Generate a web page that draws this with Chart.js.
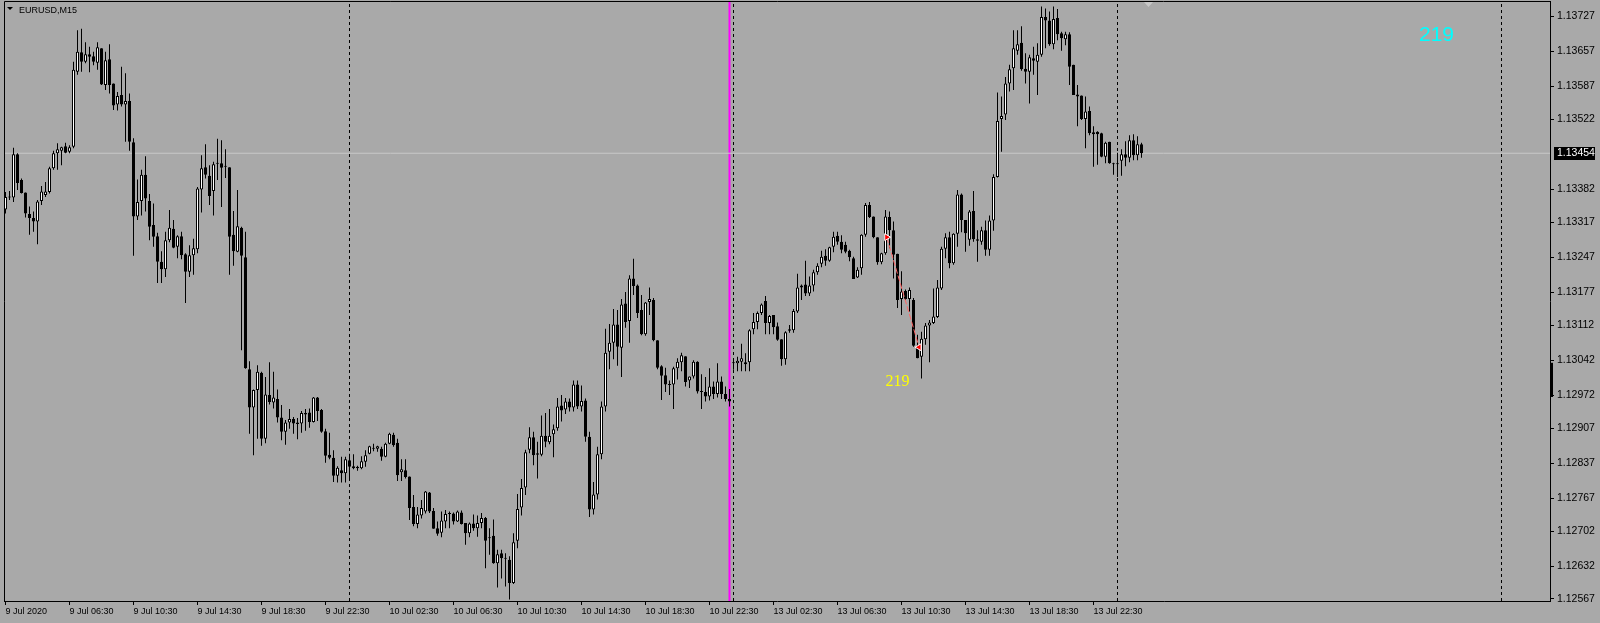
<!DOCTYPE html>
<html>
<head>
<meta charset="utf-8">
<script src="https://cdn.jsdelivr.net/npm/chart.js@4.4.1/dist/chart.umd.min.js"></script>
<style>
  html, body { margin: 0; padding: 0; background: #a9a9a9; overflow: hidden; }
  canvas { display: block; }
</style>
</head>
<body>
<canvas id="chart" width="1600" height="623"></canvas>
<script>
// EURUSD M15, 9 Jul 02:30 .. 14 Jul 01:00 — one entry per bar.
const opens = [
  1.13342, 1.13367, 1.13366, 1.13452, 1.13401, 1.13376, 1.13333, 1.13325, 1.13318, 1.13359,
  1.13371, 1.13377, 1.13424, 1.13454, 1.13459, 1.13468, 1.13457, 1.13467, 1.13616, 1.13655,
  1.13636, 1.13651, 1.13647, 1.13634, 1.13663, 1.13590, 1.13641, 1.13593, 1.13551, 1.13570,
  1.13551, 1.13558, 1.13476, 1.13328, 1.13359, 1.13411, 1.13359, 1.13311, 1.13289, 1.13238,
  1.13223, 1.13281, 1.13304, 1.13268, 1.13289, 1.13253, 1.13218, 1.13251, 1.13263, 1.13382,
  1.13426, 1.13409, 1.13379, 1.13433, 1.13434, 1.13427, 1.13426, 1.13292, 1.13258, 1.13306,
  1.13247, 1.13024, 1.12948, 1.12983, 1.13017, 1.12886, 1.12973, 1.12958, 1.12965, 1.12928,
  1.12900, 1.12918, 1.12925, 1.12918, 1.12916, 1.12937, 1.12938, 1.12919, 1.12968, 1.12943,
  1.12901, 1.12854, 1.12848, 1.12812, 1.12823, 1.12817, 1.12843, 1.12831, 1.12830, 1.12827,
  1.12840, 1.12856, 1.12868, 1.12866, 1.12866, 1.12850, 1.12876, 1.12894, 1.12878, 1.12819,
  1.12823, 1.12811, 1.12750, 1.12716, 1.12733, 1.12741, 1.12779, 1.12742, 1.12708, 1.12699,
  1.12721, 1.12736, 1.12737, 1.12721, 1.12739, 1.12718, 1.12698, 1.12717, 1.12708, 1.12718,
  1.12728, 1.12688, 1.12693, 1.12638, 1.12658, 1.12647, 1.12645, 1.12599, 1.12683, 1.12749,
  1.12789, 1.12864, 1.12889, 1.12857, 1.12854, 1.12892, 1.12879, 1.12895, 1.12907, 1.12952,
  1.12944, 1.12960, 1.12948, 1.12994, 1.12950, 1.12962, 1.12890, 1.12745, 1.12775, 1.12855,
  1.12950, 1.13059, 1.13077, 1.13113, 1.13067, 1.13155, 1.13120, 1.13205, 1.13191, 1.13142,
  1.13094, 1.13158, 1.13162, 1.13082, 1.13030, 1.13012, 1.12993, 1.12994, 1.13026, 1.13038,
  1.13050, 1.13002, 1.13010, 1.13039, 1.12979, 1.12979, 1.12970, 1.12990, 1.12975, 1.13000,
  1.12975, 1.12965, 1.13036, 1.13036, 1.13039, 1.13034, 1.13038, 1.13104, 1.13118, 1.13136,
  1.13160, 1.13116, 1.13132, 1.13110, 1.13084, 1.13044, 1.13101, 1.13102, 1.13139, 1.13187,
  1.13193, 1.13175, 1.13191, 1.13217, 1.13234, 1.13250, 1.13240, 1.13268, 1.13290, 1.13278,
  1.13272, 1.13260, 1.13245, 1.13207, 1.13225, 1.13292, 1.13351, 1.13328, 1.13287, 1.13237,
  1.13255, 1.13327, 1.13301, 1.13254, 1.13164, 1.13180, 1.13164, 1.13162, 1.13071, 1.13049,
  1.13084, 1.13111, 1.13116, 1.13128, 1.13185, 1.13264, 1.13287, 1.13235, 1.13294, 1.13372,
  1.13321, 1.13282, 1.13339, 1.13283, 1.13278, 1.13301, 1.13262, 1.13320, 1.13407, 1.13522,
  1.13531, 1.13593, 1.13623, 1.13658, 1.13674, 1.13622, 1.13616, 1.13643, 1.13636, 1.13650,
  1.13725, 1.13718, 1.13671, 1.13723, 1.13693, 1.13681, 1.13691, 1.13630, 1.13571, 1.13569,
  1.13522, 1.13538, 1.13492, 1.13497, 1.13494, 1.13447, 1.13477, 1.13434, 1.13432, 1.13439,
  1.13452, 1.13445, 1.13480, 1.13450, 1.13472,
];
const highs = [
  1.13377, 1.13379, 1.13465, 1.13454, 1.13404, 1.13376, 1.13348, 1.13338, 1.13361, 1.13389,
  1.13397, 1.13427, 1.13459, 1.13474, 1.13467, 1.13475, 1.13470, 1.13636, 1.13699, 1.13702,
  1.13675, 1.13666, 1.13656, 1.13675, 1.13663, 1.13656, 1.13671, 1.13593, 1.13576, 1.13626,
  1.13613, 1.13573, 1.13484, 1.13402, 1.13421, 1.13448, 1.13373, 1.13354, 1.13296, 1.13259,
  1.13298, 1.13341, 1.13321, 1.13291, 1.13298, 1.13255, 1.13271, 1.13284, 1.13387, 1.13450,
  1.13472, 1.13430, 1.13437, 1.13483, 1.13480, 1.13462, 1.13426, 1.13339, 1.13381, 1.13308,
  1.13298, 1.13040, 1.12984, 1.13032, 1.13019, 1.13009, 1.13038, 1.13019, 1.12984, 1.12953,
  1.12923, 1.12945, 1.12929, 1.12927, 1.12941, 1.12945, 1.12946, 1.12969, 1.12969, 1.12945,
  1.12906, 1.12898, 1.12863, 1.12831, 1.12850, 1.12850, 1.12856, 1.12855, 1.12832, 1.12851,
  1.12863, 1.12872, 1.12876, 1.12872, 1.12870, 1.12878, 1.12898, 1.12898, 1.12886, 1.12845,
  1.12845, 1.12811, 1.12774, 1.12750, 1.12764, 1.12782, 1.12780, 1.12748, 1.12721, 1.12741,
  1.12744, 1.12741, 1.12739, 1.12743, 1.12743, 1.12718, 1.12719, 1.12735, 1.12733, 1.12738,
  1.12730, 1.12708, 1.12725, 1.12665, 1.12665, 1.12658, 1.12652, 1.12698, 1.12776, 1.12806,
  1.12864, 1.12909, 1.12900, 1.12880, 1.12932, 1.12937, 1.12945, 1.12914, 1.12967, 1.12973,
  1.12967, 1.12966, 1.13002, 1.13002, 1.12992, 1.12966, 1.12900, 1.12800, 1.12870, 1.12960,
  1.13105, 1.13114, 1.13144, 1.13142, 1.13164, 1.13178, 1.13211, 1.13244, 1.13193, 1.13172,
  1.13158, 1.13187, 1.13166, 1.13082, 1.13032, 1.13027, 1.13002, 1.13029, 1.13046, 1.13057,
  1.13050, 1.13010, 1.13042, 1.13040, 1.13014, 1.13009, 1.13026, 1.13000, 1.13036, 1.13010,
  1.12990, 1.12985, 1.13044, 1.13049, 1.13075, 1.13056, 1.13104, 1.13136, 1.13139, 1.13155,
  1.13170, 1.13132, 1.13132, 1.13117, 1.13084, 1.13100, 1.13112, 1.13144, 1.13214, 1.13193,
  1.13240, 1.13209, 1.13222, 1.13235, 1.13260, 1.13263, 1.13268, 1.13298, 1.13298, 1.13291,
  1.13278, 1.13262, 1.13248, 1.13227, 1.13293, 1.13355, 1.13357, 1.13328, 1.13287, 1.13256,
  1.13341, 1.13338, 1.13318, 1.13254, 1.13219, 1.13183, 1.13187, 1.13166, 1.13093, 1.13099,
  1.13116, 1.13122, 1.13185, 1.13202, 1.13268, 1.13295, 1.13298, 1.13295, 1.13381, 1.13374,
  1.13321, 1.13341, 1.13379, 1.13301, 1.13308, 1.13320, 1.13330, 1.13412, 1.13575, 1.13567,
  1.13606, 1.13630, 1.13699, 1.13699, 1.13707, 1.13653, 1.13650, 1.13666, 1.13673, 1.13746,
  1.13742, 1.13736, 1.13746, 1.13741, 1.13696, 1.13696, 1.13695, 1.13630, 1.13590, 1.13569,
  1.13567, 1.13547, 1.13508, 1.13498, 1.13495, 1.13477, 1.13477, 1.13435, 1.13455, 1.13462,
  1.13478, 1.13490, 1.13492, 1.13488, 1.13475,
];
const lows = [
  1.13334, 1.13361, 1.13357, 1.13381, 1.13374, 1.13326, 1.13292, 1.13298, 1.13273, 1.13351,
  1.13367, 1.13374, 1.13421, 1.13421, 1.13430, 1.13454, 1.13454, 1.13464, 1.13610, 1.13616,
  1.13633, 1.13615, 1.13629, 1.13620, 1.13590, 1.13580, 1.13573, 1.13540, 1.13539, 1.13547,
  1.13477, 1.13459, 1.13250, 1.13321, 1.13330, 1.13338, 1.13281, 1.13268, 1.13196, 1.13196,
  1.13208, 1.13277, 1.13265, 1.13245, 1.13243, 1.13156, 1.13208, 1.13212, 1.13255, 1.13336,
  1.13404, 1.13351, 1.13330, 1.13401, 1.13347, 1.13405, 1.13212, 1.13230, 1.13257, 1.13062,
  1.13025, 1.12896, 1.12853, 1.12886, 1.12872, 1.12877, 1.12954, 1.12946, 1.12918, 1.12883,
  1.12874, 1.12906, 1.12896, 1.12885, 1.12898, 1.12902, 1.12908, 1.12918, 1.12921, 1.12898,
  1.12838, 1.12845, 1.12800, 1.12799, 1.12799, 1.12799, 1.12807, 1.12825, 1.12822, 1.12825,
  1.12830, 1.12855, 1.12861, 1.12860, 1.12842, 1.12849, 1.12875, 1.12870, 1.12802, 1.12802,
  1.12807, 1.12724, 1.12712, 1.12708, 1.12727, 1.12737, 1.12738, 1.12707, 1.12693, 1.12690,
  1.12708, 1.12708, 1.12715, 1.12720, 1.12715, 1.12675, 1.12690, 1.12703, 1.12691, 1.12708,
  1.12628, 1.12655, 1.12637, 1.12590, 1.12608, 1.12592, 1.12566, 1.12597, 1.12668, 1.12733,
  1.12774, 1.12857, 1.12833, 1.12807, 1.12851, 1.12869, 1.12875, 1.12849, 1.12902, 1.12920,
  1.12935, 1.12940, 1.12940, 1.12945, 1.12940, 1.12880, 1.12730, 1.12735, 1.12765, 1.12845,
  1.12940, 1.13024, 1.13044, 1.13031, 1.13009, 1.13107, 1.13077, 1.13172, 1.13126, 1.13092,
  1.13091, 1.13132, 1.13080, 1.13024, 1.12963, 1.12979, 1.12973, 1.12945, 1.13004, 1.13020,
  1.12990, 1.12987, 1.13006, 1.12976, 1.12945, 1.12960, 1.12962, 1.12965, 1.12968, 1.12965,
  1.12960, 1.12950, 1.13023, 1.13020, 1.13020, 1.13020, 1.13020, 1.13094, 1.13104, 1.13132,
  1.13094, 1.13094, 1.13094, 1.13081, 1.13031, 1.13033, 1.13097, 1.13097, 1.13136, 1.13162,
  1.13170, 1.13170, 1.13179, 1.13212, 1.13227, 1.13230, 1.13238, 1.13257, 1.13272, 1.13255,
  1.13255, 1.13239, 1.13204, 1.13206, 1.13212, 1.13288, 1.13325, 1.13285, 1.13232, 1.13233,
  1.13252, 1.13265, 1.13205, 1.13146, 1.13132, 1.13162, 1.13139, 1.13069, 1.13046, 1.13006,
  1.13073, 1.13038, 1.13114, 1.13126, 1.13182, 1.13245, 1.13225, 1.13232, 1.13268, 1.13297,
  1.13258, 1.13270, 1.13278, 1.13238, 1.13272, 1.13250, 1.13250, 1.13300, 1.13406, 1.13457,
  1.13520, 1.13577, 1.13580, 1.13650, 1.13618, 1.13593, 1.13553, 1.13610, 1.13570, 1.13646,
  1.13663, 1.13668, 1.13661, 1.13679, 1.13658, 1.13669, 1.13590, 1.13570, 1.13508, 1.13520,
  1.13464, 1.13490, 1.13427, 1.13431, 1.13446, 1.13434, 1.13433, 1.13411, 1.13407, 1.13409,
  1.13428, 1.13436, 1.13440, 1.13440, 1.13445,
];
const closes = [
  1.13367, 1.13366, 1.13452, 1.13395, 1.13375, 1.13334, 1.13325, 1.13318, 1.13358, 1.13378,
  1.13378, 1.13424, 1.13454, 1.13462, 1.13466, 1.13455, 1.13466, 1.13620, 1.13656, 1.13636,
  1.13651, 1.13646, 1.13636, 1.13665, 1.13591, 1.13639, 1.13590, 1.13549, 1.13568, 1.13551,
  1.13558, 1.13477, 1.13328, 1.13357, 1.13411, 1.13364, 1.13308, 1.13288, 1.13238, 1.13223,
  1.13281, 1.13306, 1.13266, 1.13289, 1.13251, 1.13218, 1.13251, 1.13265, 1.13384, 1.13424,
  1.13411, 1.13369, 1.13432, 1.13434, 1.13425, 1.13428, 1.13288, 1.13259, 1.13309, 1.13250,
  1.13026, 1.12948, 1.12983, 1.13019, 1.12886, 1.12974, 1.12959, 1.12968, 1.12928, 1.12900,
  1.12918, 1.12925, 1.12916, 1.12915, 1.12937, 1.12934, 1.12919, 1.12968, 1.12941, 1.12900,
  1.12852, 1.12848, 1.12812, 1.12828, 1.12817, 1.12845, 1.12830, 1.12827, 1.12827, 1.12841,
  1.12853, 1.12871, 1.12866, 1.12871, 1.12850, 1.12876, 1.12896, 1.12873, 1.12813, 1.12825,
  1.12810, 1.12748, 1.12716, 1.12735, 1.12748, 1.12781, 1.12741, 1.12707, 1.12697, 1.12723,
  1.12736, 1.12738, 1.12721, 1.12741, 1.12716, 1.12698, 1.12717, 1.12708, 1.12718, 1.12728,
  1.12683, 1.12688, 1.12638, 1.12656, 1.12648, 1.12647, 1.12599, 1.12680, 1.12746, 1.12788,
  1.12859, 1.12889, 1.12853, 1.12854, 1.12892, 1.12880, 1.12892, 1.12905, 1.12950, 1.12942,
  1.12960, 1.12948, 1.12994, 1.12950, 1.12961, 1.12890, 1.12745, 1.12775, 1.12855, 1.12950,
  1.13057, 1.13077, 1.13113, 1.13069, 1.13153, 1.13118, 1.13205, 1.13190, 1.13136, 1.13094,
  1.13157, 1.13164, 1.13082, 1.13027, 1.13011, 1.12994, 1.12993, 1.13026, 1.13039, 1.13052,
  1.12999, 1.13010, 1.13039, 1.12980, 1.12979, 1.12970, 1.12990, 1.12975, 1.13000, 1.12975,
  1.12965, 1.12960, 1.13036, 1.13041, 1.13046, 1.13038, 1.13102, 1.13118, 1.13136, 1.13153,
  1.13116, 1.13130, 1.13108, 1.13083, 1.13044, 1.13098, 1.13104, 1.13140, 1.13187, 1.13191,
  1.13175, 1.13191, 1.13217, 1.13230, 1.13248, 1.13240, 1.13267, 1.13288, 1.13278, 1.13262,
  1.13258, 1.13247, 1.13204, 1.13222, 1.13292, 1.13351, 1.13327, 1.13287, 1.13237, 1.13255,
  1.13328, 1.13301, 1.13252, 1.13162, 1.13179, 1.13164, 1.13182, 1.13071, 1.13046, 1.13085,
  1.13111, 1.13117, 1.13129, 1.13187, 1.13264, 1.13287, 1.13235, 1.13294, 1.13372, 1.13321,
  1.13295, 1.13338, 1.13283, 1.13280, 1.13301, 1.13262, 1.13320, 1.13407, 1.13518, 1.13528,
  1.13593, 1.13621, 1.13663, 1.13671, 1.13621, 1.13616, 1.13645, 1.13638, 1.13650, 1.13725,
  1.13718, 1.13671, 1.13721, 1.13691, 1.13683, 1.13691, 1.13626, 1.13570, 1.13567, 1.13522,
  1.13537, 1.13494, 1.13496, 1.13492, 1.13447, 1.13475, 1.13434, 1.13432, 1.13434, 1.13452,
  1.13445, 1.13480, 1.13450, 1.13472, 1.13454,
];

// time axis: bar index of each label and its text
const timeTickBars = [0, 16, 32, 48, 64, 80, 96, 112, 128, 144, 160, 176, 192, 208, 224, 240, 256, 272];
const timeTickLabels = [
  "9 Jul 2020", "9 Jul 06:30", "9 Jul 10:30", "9 Jul 14:30", "9 Jul 18:30", "9 Jul 22:30",
  "10 Jul 02:30", "10 Jul 06:30", "10 Jul 10:30", "10 Jul 14:30", "10 Jul 18:30", "10 Jul 22:30",
  "13 Jul 02:30", "13 Jul 06:30", "13 Jul 10:30", "13 Jul 14:30", "13 Jul 18:30", "13 Jul 22:30",
];
const priceTicks = [
  1.13727, 1.13657, 1.13587, 1.13522, 1.13382, 1.13317, 1.13247, 1.13177, 1.13112,
  1.13042, 1.12972, 1.12907, 1.12837, 1.12767, 1.12702, 1.12632, 1.12567,
];

const daySeparatorBars = [86, 182, 278, 374]; // 10, 13, 14, 15 Jul 00:00
const vlineBar = 181;                          // magenta vertical line
const bidPrice = 1.13454;
const tradeBars = [220.3, 228.4];              // sell open -> close
const tradePrices = [1.13287, 1.13068];
const tradeText = "219";
const tradeTextAt = { bar: 220, price: 1.12990 };
const axisMarkPrices = [1.12969, 1.13037];     // dark block on the price scale

const X_MIN = -0.375, X_MAX = 386.125;         // 4 px per bar over the visible window
const Y_MIN = 1.12563, Y_MAX = 1.13757;

const FONT = "'Liberation Sans', Arial, sans-serif";

const vline = (bar) => [{ x: bar, y: Y_MIN }, { x: bar, y: Y_MAX }];

const overlay = {
  id: "overlay",
  afterDraw(chart) {
    const { ctx, chartArea: a, scales: { x, y } } = chart;
    ctx.save();
    // frame on the left/top of the plot
    ctx.strokeStyle = "#000";
    ctx.lineWidth = 1;
    ctx.beginPath();
    ctx.moveTo(a.left + 0.5, a.bottom);
    ctx.lineTo(a.left + 0.5, a.top + 0.5);
    ctx.lineTo(a.right, a.top + 0.5);
    ctx.stroke();

    // symbol caption
    ctx.fillStyle = "#000";
    ctx.beginPath();
    ctx.moveTo(7, 7); ctx.lineTo(13, 7); ctx.lineTo(10, 10); ctx.closePath();
    ctx.fill();
    ctx.font = `9px ${FONT}`;
    ctx.textBaseline = "alphabetic";
    ctx.fillText("EURUSD,M15", 19, 13);

    // chart-shift marker
    ctx.fillStyle = "#c8c8c8";
    ctx.beginPath();
    ctx.moveTo(1144, 2); ctx.lineTo(1153, 2); ctx.lineTo(1148.5, 7); ctx.closePath();
    ctx.fill();

    // trade label
    ctx.fillStyle = "#ffff00";
    ctx.font = `16px 'Liberation Serif', 'Times New Roman', serif`;
    ctx.fillText(tradeText, x.getPixelForValue(tradeTextAt.bar), y.getPixelForValue(tradeTextAt.price));

    // counter in the corner
    ctx.fillStyle = "#00ffff";
    ctx.font = `21px ${FONT}`;
    ctx.fillText(tradeText, 1419, 40.5);

    // block on the price scale
    const yb0 = y.getPixelForValue(axisMarkPrices[1]);
    const yb1 = y.getPixelForValue(axisMarkPrices[0]);
    ctx.fillStyle = "#000";
    ctx.fillRect(a.right, yb0, 3, yb1 - yb0);

    // bid price tag
    const yp = y.getPixelForValue(bidPrice);
    ctx.fillStyle = "#000";
    ctx.fillRect(a.right + 4, Math.round(yp) - 6, 41, 13);
    ctx.fillStyle = "#fff";
    ctx.font = `10.5px ${FONT}`;
    ctx.textBaseline = "middle";
    ctx.fillText(bidPrice.toFixed(5), a.right + 7, Math.round(yp) + 0.5);
    ctx.restore();
  },
};

new Chart(document.getElementById("chart"), {
  type: "bar",
  data: {
    datasets: [
      {
        label: "body",
        data: opens.map((o, i) => ({ x: i, y: [o, closes[i]] })),
        backgroundColor: opens.map((o, i) => (closes[i] >= o ? "#ffffff" : "#000000")),
        borderColor: "#000000",
        borderWidth: 1,
        borderSkipped: false,
        barThickness: 3,
        maxBarThickness: 3,
        minBarLength: 1,
        inflateAmount: 0,
        grouped: false,
        order: 1,
      },
      {
        label: "wick",
        data: lows.map((l, i) => ({ x: i, y: [l, highs[i]] })),
        backgroundColor: "#000000",
        borderWidth: 0,
        barThickness: 1,
        maxBarThickness: 1,
        inflateAmount: 0,
        grouped: false,
        order: 2,
      },
      {
        type: "line",
        label: "bid",
        data: [{ x: X_MIN, y: bidPrice }, { x: X_MAX, y: bidPrice }],
        borderColor: "#c8c8c8",
        borderWidth: 1,
        pointRadius: 0,
        order: 3,
      },
      ...daySeparatorBars.map((b) => ({
        type: "line",
        label: "day",
        data: vline(b),
        borderColor: "#000000",
        borderWidth: 1,
        borderDash: [3, 3],
        pointRadius: 0,
        order: 3,
      })),
      {
        type: "line",
        label: "vline",
        data: vline(vlineBar),
        borderColor: "#ff00ff",
        borderWidth: 2,
        pointRadius: 0,
        order: 3,
      },
      {
        type: "line",
        label: "trade",
        data: tradeBars.map((b, i) => ({ x: b, y: tradePrices[i] })),
        borderColor: "#ff6666",
        borderWidth: 1,
        borderDash: [6, 2],
        pointStyle: "triangle",
        pointRotation: [90, -90],
        pointRadius: 4,
        pointBackgroundColor: "#ff0000",
        pointBorderColor: "#ffffff",
        pointBorderWidth: 1,
        order: 0,
      },
    ],
  },
  options: {
    responsive: false,
    devicePixelRatio: 1,
    animation: false,
    events: [],
    layout: { autoPadding: false, padding: { left: 4, top: 1, right: 0, bottom: 0 } },
    plugins: { legend: { display: false }, tooltip: { enabled: false } },
    scales: {
      x: {
        type: "linear",
        position: "bottom",
        min: X_MIN,
        max: X_MAX,
        offset: false,
        afterBuildTicks: (s) => { s.ticks = timeTickBars.map((v) => ({ value: v })); },
        afterFit: (s) => { s.height = 22; s.paddingLeft = 0; s.paddingRight = 0; },
        ticks: {
          align: "start",
          autoSkip: false,
          maxRotation: 0,
          padding: 1,
          color: "#000",
          font: { family: FONT, size: 9 },
          callback: (v) => timeTickLabels[timeTickBars.indexOf(v)] ?? "",
        },
        grid: { drawOnChartArea: false, drawTicks: true, tickLength: 4, tickColor: "#000", offset: false },
        border: { display: true, color: "#000" },
      },
      y: {
        type: "linear",
        position: "right",
        min: Y_MIN,
        max: Y_MAX,
        afterBuildTicks: (s) => { s.ticks = priceTicks.map((v) => ({ value: v })); },
        afterFit: (s) => { s.width = 50; s.paddingTop = 0; s.paddingBottom = 0; },
        ticks: {
          padding: 3,
          color: "#000",
          font: { family: FONT, size: 10.5 },
          callback: (v) => v.toFixed(5),
        },
        grid: { drawOnChartArea: false, drawTicks: true, tickLength: 4, tickColor: "#000" },
        border: { display: true, color: "#000" },
      },
    },
  },
  plugins: [overlay],
});
</script>
</body>
</html>
